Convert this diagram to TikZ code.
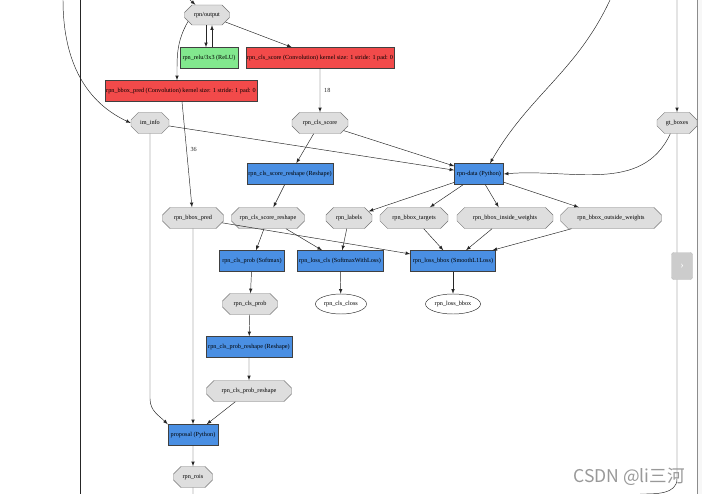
\documentclass[tikz,border=0pt]{standalone}
\usepackage{fontspec}
\setmainfont{Liberation Serif}
\newfontfamily\cjkfont{Noto Sans CJK SC}
\usepackage{xcolor}
\usepackage{tikz}
\usetikzlibrary{shapes.misc,shapes.geometric}

\definecolor{blobgray}{HTML}{DEDEDE}
\definecolor{pyblue}{HTML}{4A8FE3}
\definecolor{convred}{HTML}{F24A4A}
\definecolor{relugreen}{HTML}{82E88E}
\tikzset{
	layer/.style={rectangle, draw=black!75, minimum height=6.3mm, inner sep=1pt, font=\fontsize{5.3}{6}\selectfont},
	convbox/.style={layer, fill=convred},
	relubox/.style={layer, fill=relugreen},
	pybox/.style={layer, fill=pyblue},
	blob/.style={chamfered rectangle, chamfered rectangle xsep=2mm, draw=black!55, fill=blobgray, minimum height=6.3mm, inner sep=1pt, font=\fontsize{5.3}{6}\selectfont},
	outblob/.style={ellipse, draw=black!80, fill=white, minimum height=6mm, inner sep=1pt, font=\fontsize{5.3}{6}\selectfont},
	edge/.style={black!85, -latex},
}

\begin{document}
\begin{tikzpicture}[x=0.3mm, y=0.3mm]
	\useasboundingbox (0,0) rectangle (702,-494);
	\fill[black!3] (697,0) rectangle (702,-494);
	\draw[black!45] (697,0) -- (697,-494);

	\node[blob, minimum width=13.5mm, minimum height=6mm] (rpnout) at (207,-15) {rpn/output};
	\node[relubox, minimum width=17.4mm] (relu) at (209,-58) {rpn\_relu/3x3 (ReLU)};
	\node[convbox, minimum width=44.1mm] (clsconv) at (320,-58) {rpn\_cls\_score (Convolution) kernel size: 1 stride: 1 pad: 0};
	\node[convbox, minimum width=45.3mm] (bboxconv) at (181,-91) {rpn\_bbox\_pred (Convolution) kernel size: 1 stride: 1 pad: 0};
	\node[blob, minimum width=11.4mm] (iminfo) at (150,-123) {im\_info};
	\node[blob, minimum width=16.8mm] (clsscore) at (320,-123) {rpn\_cls\_score};
	\node[blob, minimum width=12mm] (gtboxes) at (677,-123) {gt\_boxes};
	\node[pybox, minimum width=25.8mm] (clsreshape) at (290,-174) {rpn\_cls\_score\_reshape (Reshape)};
	\node[pybox, minimum width=14.7mm] (rpndata) at (479,-174) {rpn-data (Python)};
	\node[blob, minimum width=18.3mm] (bboxpred) at (193,-218) {rpn\_bbox\_pred};
	\node[blob, minimum width=21.9mm] (clsscorer) at (268,-218) {rpn\_cls\_score\_reshape};
	\node[blob, minimum width=13.8mm] (labels) at (349,-218) {rpn\_labels};
	\node[blob, minimum width=20.4mm] (bboxtargets) at (414,-218) {rpn\_bbox\_targets};
	\node[blob, minimum width=28.8mm] (insidew) at (505,-218) {rpn\_bbox\_inside\_weights};
	\node[blob, minimum width=30.3mm] (outsidew) at (611,-218) {rpn\_bbox\_outside\_weights};
	\node[pybox, minimum width=19.5mm] (clsprob) at (252,-261) {rpn\_cls\_prob (Softmax)};
	\node[pybox, minimum width=25.8mm] (losscls) at (340,-261) {rpn\_loss\_cls (SoftmaxWithLoss)};
	\node[pybox, minimum width=25.5mm] (lossbbox) at (453,-261) {rpn\_loss\_bbox (SmoothL1Loss)};
	\node[blob, minimum width=16.5mm] (clsprobb) at (250,-304) {rpn\_cls\_prob};
	\node[outblob, minimum width=15.3mm] (clsloss) at (341,-304) {rpn\_cls\_closs};
	\node[outblob, minimum width=16.5mm] (lossbboxo) at (453,-304) {rpn\_loss\_bbox};
	\node[pybox, minimum width=25.8mm] (probreshape) at (249,-347) {rpn\_cls\_prob\_reshape (Reshape)};
	\node[blob, minimum width=25.5mm] (probreshapeb) at (249,-391) {rpn\_cls\_prob\_reshape};
	\node[pybox, minimum width=15mm] (proposal) at (193,-435) {proposal (Python)};
	\node[blob, minimum width=11.7mm] (rois) at (193,-477) {rpn\_rois};

	\coordinate (lefttop) at (80,0);
	\coordinate (leftbot) at (80,-494);
	\coordinate (topin) at (190,0);
	\coordinate (infotop) at (63,0);
	\coordinate (datatop) at (610,0);
	\coordinate (gttop) at (677,0);
	\coordinate (gtbot) at (640,-494);
	\coordinate (roisbot) at (193,-494);

	\draw[black!85] (lefttop) -- (leftbot);
	\draw[edge] (topin) -- (rpnout);
	\draw[edge] ([xshift=-0.9mm]relu.north |- rpnout.south) -- ([xshift=-0.9mm]relu.north);
	\draw[edge] ([xshift=0.9mm]relu.north) -- ([xshift=0.9mm]relu.north |- rpnout.south);
	\draw[edge] (rpnout) -- (clsconv);
	\draw[edge] (rpnout.south west) to[out=-120, in=90] ([xshift=-1.2mm]bboxconv.north);
	\draw[edge] (clsconv) -- node[right, font=\fontsize{5.3}{6}\selectfont]{18} (clsscore);
	\draw[edge] (bboxconv) -- node[pos=0.45, right, font=\fontsize{5.3}{6}\selectfont]{36} (bboxpred);
	\draw[edge] (infotop) to[out=-90, in=155] (iminfo.west);
	\draw[edge] (iminfo) -- (rpndata);
	\draw[edge] (iminfo.south) -- ++(0,-265) to[out=-90, in=135] (proposal.north west);
	\draw[edge] (clsscore) -- (rpndata);
	\draw[edge] (clsscore) -- (clsreshape);
	\draw[edge] (datatop) to[out=-115, in=60] ([xshift=3.3mm]rpndata.north);
	\draw[edge] (gttop) -- (gtboxes);
	\draw[edge] ([xshift=-2mm]gtboxes.south) to[out=-115, in=5] (rpndata.east);
	\draw[black!85] (gtboxes.south) -- ++(0,-345) to[out=-90, in=0] (gtbot);
	\draw[edge] (clsreshape) -- (clsscorer);
	\draw[edge] (rpndata) -- (labels);
	\draw[edge] (rpndata) -- (bboxtargets);
	\draw[edge] (rpndata) -- (insidew);
	\draw[edge] (rpndata) -- (outsidew);
	\draw[edge] (bboxpred) -- (lossbbox);
	\draw[edge] (bboxpred) -- (proposal);
	\draw[edge] (clsscorer) -- (clsprob);
	\draw[edge] (clsscorer) -- (losscls);
	\draw[edge] (labels) -- (losscls);
	\draw[edge] (bboxtargets) -- (lossbbox);
	\draw[edge] (insidew) -- (lossbbox);
	\draw[edge] (outsidew) -- (lossbbox);
	\draw[edge] (clsprob) -- (clsprobb);
	\draw[edge] (losscls) -- (clsloss);
	\draw[edge] (lossbbox) -- (lossbboxo);
	\draw[edge] (clsprobb) -- (probreshape);
	\draw[edge] (probreshape) -- (probreshapeb);
	\draw[edge] (probreshapeb) -- (proposal);
	\draw[edge] (proposal) -- (rois);
	\draw[black!85] (rois) -- (roisbot);

	\node[rounded corners=2pt, fill=black!20, draw=black!25, minimum width=6.3mm, minimum height=8.1mm, text=white, font=\small] (scrollbtn) at (682,-266) {›};
	\node[anchor=east, text=black!40, font=\cjkfont\fontsize{15}{15}\selectfont] (mark) at (689,-477) {CSDN @li三河};
\end{tikzpicture}
\end{document}
